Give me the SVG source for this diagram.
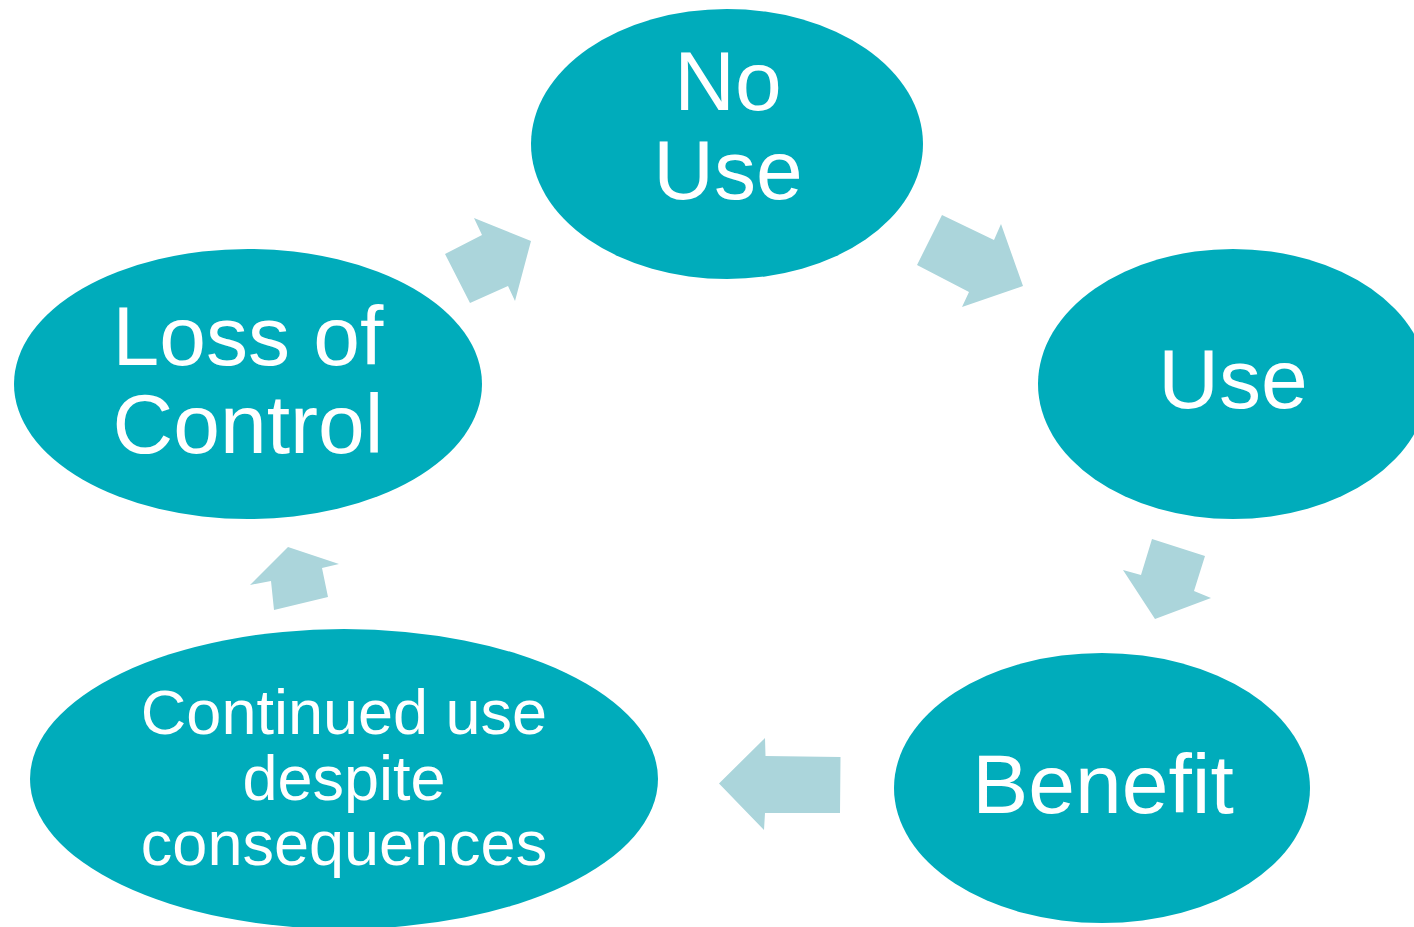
<svg xmlns="http://www.w3.org/2000/svg" width="1414" height="927" viewBox="0 0 1414 927">
<style>
.node{fill:#00ACBB}
.lbl{fill:#FFFFFF;font-family:"Liberation Sans",Arial,sans-serif;font-size:84px;text-anchor:middle}
.sm{font-size:63px}
.arr{fill:#ABD5DB}
</style>
<rect width="1414" height="927" fill="#FFFFFF"/>
<g id="connectors">
<polygon class="arr" points="474,218 482,235 445,254 470,303 508,286 515,301 531,241"/>
<polygon class="arr" points="942,215 994,240 1001,224 1023,286 962,307 969,292 917,265"/>
<polygon class="arr" points="1152,539 1205,556 1194,591 1211,598 1155,619 1123,570 1141,575"/>
<polygon class="arr" points="840.5,757 765.5,756 765,738 719,783.5 764,830 765,813 840,813"/>
<polygon class="arr" points="339,564 288,547 250,585 271,581 274,610 328,597 322,568"/>
</g>
<g id="node-nouse">
<ellipse class="node" cx="727" cy="144" rx="196" ry="135"/>
<text class="lbl" x="728" y="110">No</text>
<text class="lbl" x="728" y="199">Use</text>
</g>
<g id="node-use">
<ellipse class="node" cx="1233" cy="384" rx="195" ry="135"/>
<text class="lbl" x="1233" y="408">Use</text>
</g>
<g id="node-benefit">
<ellipse class="node" cx="1102" cy="788" rx="208" ry="135"/>
<text class="lbl" x="1103" y="813">Benefit</text>
</g>
<g id="node-continued">
<ellipse class="node" cx="344" cy="779" rx="314" ry="150"/>
<text class="lbl sm" x="344" y="734">Continued use</text>
<text class="lbl sm" x="344" y="800">despite</text>
<text class="lbl sm" x="344" y="865">consequences</text>
</g>
<g id="node-loss">
<ellipse class="node" cx="248" cy="384" rx="234" ry="135"/>
<text class="lbl" x="248" y="365">Loss of</text>
<text class="lbl" x="248" y="453">Control</text>
</g>
</svg>
